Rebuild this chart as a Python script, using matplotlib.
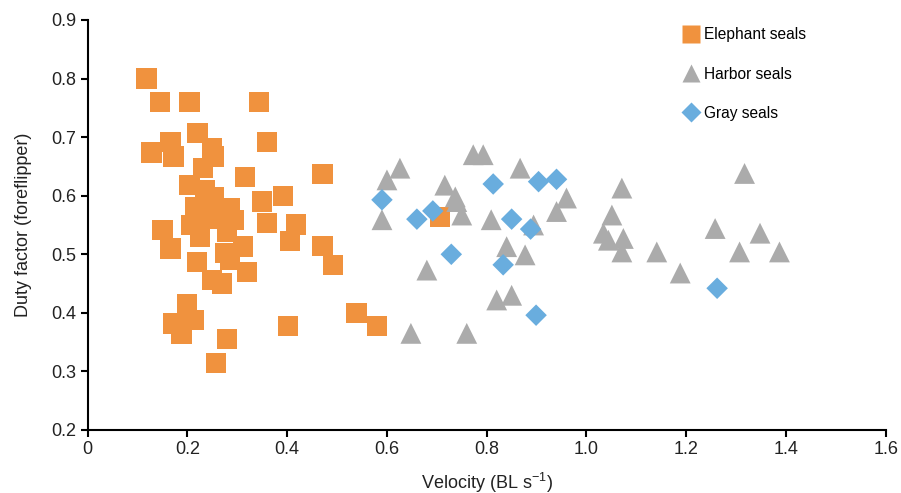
import matplotlib
matplotlib.use("Agg")
import matplotlib.pyplot as plt
from matplotlib.lines import Line2D

plt.rcParams['font.family'] = ['Liberation Sans', 'DejaVu Sans']
plt.rcParams['mathtext.fontset'] = 'custom'
plt.rcParams['mathtext.rm'] = 'Liberation Sans'

# elephant seals (orange squares)
eleph_v = [0.118, 0.145, 0.204, 0.343, 0.220, 0.359, 0.128, 0.166, 0.172, 0.249,
           0.252, 0.231, 0.316, 0.471, 0.204, 0.235, 0.391, 0.349, 0.215, 0.252,
           0.285, 0.292, 0.359, 0.418, 0.208, 0.245, 0.150, 0.225, 0.279, 0.406,
           0.166, 0.471, 0.492, 0.275, 0.312, 0.219, 0.319, 0.285, 0.249, 0.269,
           0.199, 0.172, 0.213, 0.188, 0.279, 0.257, 0.402, 0.539, 0.580, 0.706,
           0.260, 0.230]
eleph_df = [0.800, 0.760, 0.760, 0.760, 0.707, 0.692, 0.674, 0.692, 0.667, 0.681,
            0.667, 0.647, 0.632, 0.637, 0.618, 0.610, 0.600, 0.590, 0.581, 0.598,
            0.579, 0.559, 0.553, 0.551, 0.550, 0.561, 0.541, 0.530, 0.539, 0.523,
            0.510, 0.514, 0.482, 0.502, 0.513, 0.487, 0.470, 0.490, 0.456, 0.450,
            0.415, 0.382, 0.388, 0.365, 0.355, 0.314, 0.378, 0.400, 0.378, 0.564,
            0.575, 0.570]

# harbor seals (grey triangles)
harbor_v = [0.626, 0.600, 0.773, 0.793, 0.867, 0.716, 0.737, 0.740, 0.750, 0.590,
            0.809, 0.894, 0.960, 0.940, 0.840, 0.877, 0.680, 0.820, 0.850, 0.648,
            0.760, 1.071, 1.051, 1.034, 1.074, 1.071, 1.044, 1.141, 1.188, 1.317,
            1.258, 1.348, 1.307, 1.387]
harbor_df = [0.647, 0.627, 0.670, 0.670, 0.647, 0.618, 0.598, 0.590, 0.567, 0.559,
             0.559, 0.550, 0.596, 0.573, 0.513, 0.499, 0.473, 0.422, 0.430, 0.365,
             0.365, 0.613, 0.567, 0.536, 0.527, 0.504, 0.524, 0.504, 0.468, 0.638,
             0.544, 0.536, 0.504, 0.504]

# gray seals (blue diamonds)
gray_v = [0.590, 0.660, 0.692, 0.813, 0.904, 0.940, 0.850, 0.888, 0.729, 0.833,
          0.899, 1.262]
gray_df = [0.593, 0.560, 0.574, 0.620, 0.624, 0.628, 0.560, 0.543, 0.500, 0.482,
           0.396, 0.442]

orange = '#F0923E'
grey = '#ABABAB'
blue = '#69ADDE'

fig = plt.figure(figsize=(9.01, 4.93), dpi=100)
ax = fig.add_axes([87.7 / 901, 63 / 493, 798 / 901, 410 / 493])

ax.scatter(eleph_v, eleph_df, marker='s', s=215, color=orange, edgecolors='none', zorder=3)
ax.scatter(harbor_v, harbor_df, marker='^', s=225, color=grey, edgecolors='none', zorder=4)
ax.scatter(gray_v, gray_df, marker='D', s=120, color=blue, edgecolors='none', zorder=5)

ax.set_xlim(0, 1.6)
ax.set_ylim(0.2, 0.9)
ax.set_xticks([0, 0.2, 0.4, 0.6, 0.8, 1.0, 1.2, 1.4, 1.6])
ax.set_xticklabels(['0', '0.2', '0.4', '0.6', '0.8', '1.0', '1.2', '1.4', '1.6'])
ax.set_yticks([0.2, 0.3, 0.4, 0.5, 0.6, 0.7, 0.8, 0.9])
ax.set_yticklabels(['0.2', '0.3', '0.4', '0.5', '0.6', '0.7', '0.8', '0.9'])

for s in ['top', 'right']:
    ax.spines[s].set_visible(False)
for s in ['left', 'bottom']:
    ax.spines[s].set_linewidth(1.5)
ax.tick_params(direction='out', length=5, width=1.5, labelsize=13, pad=3,
               colors='black', labelcolor='#222222')

ax.set_xlabel(r'Velocity (BL s$^{\mathregular{-1}}$)', fontsize=13, color='#222222', labelpad=9)
ax.set_ylabel('Duty factor (foreflipper)', fontsize=13, color='#222222', labelpad=14)

handles = [
    Line2D([], [], linestyle='none', marker='s', markersize=13, color=orange, markeredgecolor='none'),
    Line2D([], [], linestyle='none', marker='^', markersize=13, color=grey, markeredgecolor='none'),
    Line2D([], [], linestyle='none', marker='D', markersize=10, color=blue, markeredgecolor='none'),
]
ax.legend(handles, ['Elephant seals', 'Harbor seals', 'Gray seals'],
          loc='upper left', bbox_to_anchor=(0.727, 1.016), frameon=False,
          fontsize=11.2, labelspacing=1.55, handletextpad=0.2, handlelength=1.2)

fig.savefig('out.png', dpi=100)
